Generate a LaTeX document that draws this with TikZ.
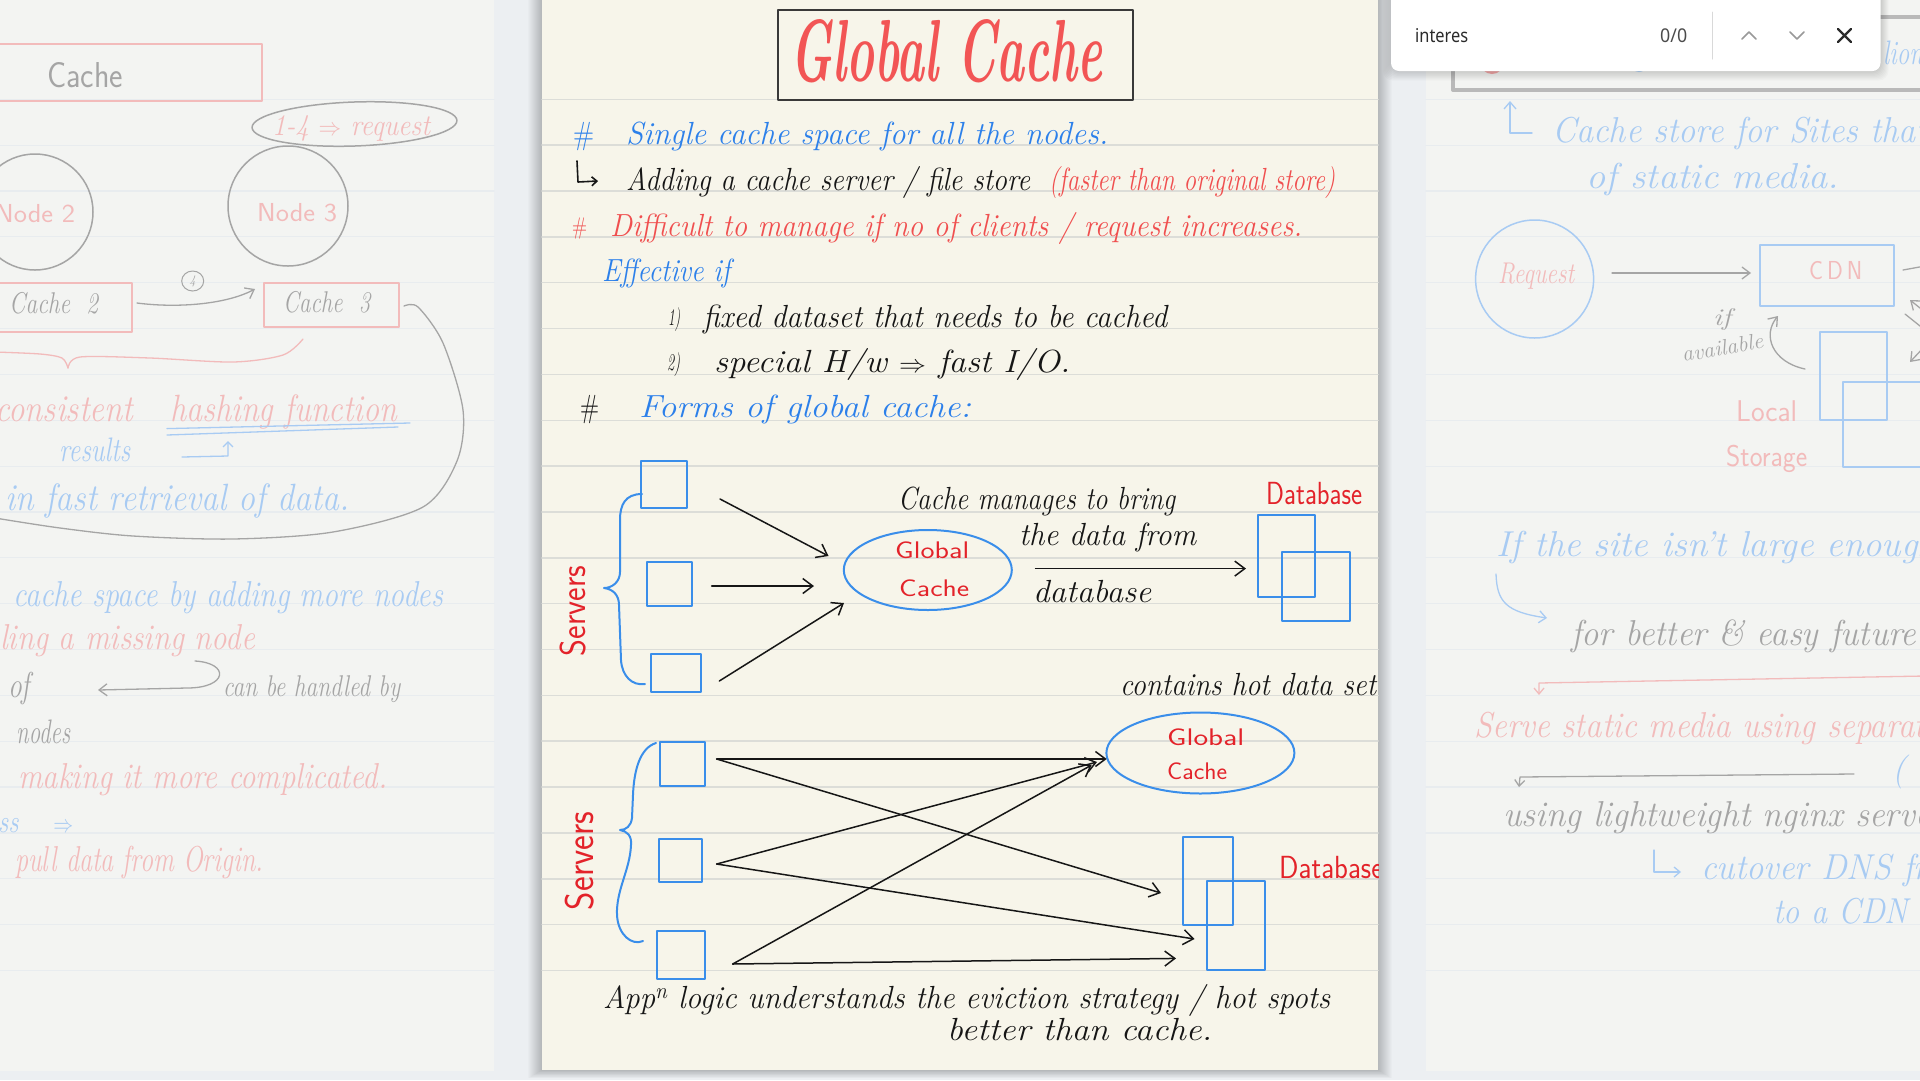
\documentclass[tikz,border=0pt]{standalone}
\usepackage{fontspec}
\usepackage{graphicx}
\usetikzlibrary{arrows.meta,shapes.geometric}
\newfontfamily\uifont{Noto Sans}
\definecolor{gutter}{HTML}{ECEFF2}
\definecolor{fpage}{HTML}{F3F4F2}
\definecolor{cpage}{HTML}{F7F5EA}
\definecolor{cline}{HTML}{DCDDD8}
\definecolor{fline}{HTML}{E8ECEF}
\definecolor{tred}{HTML}{F25555}
\definecolor{cred}{HTML}{F04F4F}
\definecolor{dred}{HTML}{E3232A}
\definecolor{cblue}{HTML}{2C80EA}
\definecolor{bblue}{HTML}{3A8EEA}
\definecolor{ink}{HTML}{161616}
\definecolor{fpink}{HTML}{F2BBBB}
\definecolor{fblue}{HTML}{A8CBF3}
\definecolor{fgray}{HTML}{A5A5A5}
\definecolor{fbox}{HTML}{B9B9B9}
\definecolor{uitext}{HTML}{2B2B2B}
\newcommand\fitw[2]{\resizebox{#1pt}{\height}{#2}}
\tikzset{
  hw/.style={anchor=base west, inner sep=0pt, font=\fontsize{#1}{#1}\selectfont\itshape},
  hw/.default=32,
  pr/.style={anchor=base west, inner sep=0pt, font=\fontsize{#1}{#1}\selectfont\sffamily},
  pr/.default=26,
  arr/.style={-{Straight Barb[length=10pt,width=15pt]}, line width=1.5pt, draw=ink},
  farr/.style={-{Straight Barb[length=8pt,width=12pt]}, line width=1.3pt},
  bx/.style={draw=bblue, line width=2pt, inner sep=0pt},
  fbx/.style={line width=1.5pt, inner sep=0pt},
}
\begin{document}
\begin{tikzpicture}[x=1pt,y=-1pt,line cap=round,line join=round]
\useasboundingbox (0,0) rectangle (1920,1080);
\fill[gutter] (0,0) rectangle (1920,1080);
% side pages
\fill[fpage] (-20,-20) rectangle (494,1071);
\fill[fpage] (1426,-20) rectangle (1940,1071);
% centre page shadow and page
\foreach \i in {1,...,14} \fill[black,opacity=0.016] (542-\i,-20) rectangle (1378+\i,1070+0.6*\i);
\fill[cpage] (542,-20) rectangle (1378,1070);
% ruled lines
\foreach \k in {0,...,19} {
  \draw[cline,line width=1.5pt] (542,99.3+45.85*\k) -- (1378,99.3+45.85*\k);
  \draw[fline,line width=1.2pt] (-5,99.3+45.85*\k) -- (494,99.3+45.85*\k);
  \draw[fline,line width=1.2pt] (1426,99.3+45.85*\k) -- (1925,99.3+45.85*\k);
}

% ================= CENTRE PAGE =================
\node[draw=ink!85, line width=2pt, minimum width=354.5, minimum height=90.5, inner sep=0pt] (titlebox) at (955.25,54.75) {};
\node[anchor=base west, inner sep=0pt, text=tred] (title) at (790,81) {\resizebox{312pt}{62pt}{\fontsize{70}{80}\selectfont\bfseries\itshape Global Cache}};

\node[hw, text=cblue] (h1) at (573,144) {\fitw{21}{\upshape\#}};
\node[hw, text=cblue] (l1) at (626,144) {\fitw{482}{Single cache space for all the nodes.}};
\coordinate (ar0a) at (577,161); \coordinate (ar0b) at (578,182); \coordinate (ar0c) at (598,181);
\draw[ink, line width=1.6pt, -{Straight Barb[length=5pt,width=9pt]}] (ar0a) -- (ar0b) -- (ar0c);
\node[hw, text=ink] (l2) at (626,190) {\fitw{404}{Adding a cache server / file store}};
\node[hw, text=cred] (l2r) at (1049,190) {\fitw{286}{(faster than original store)}};
\node[hw=24, text=cred] (h2) at (572,234) {\fitw{15}{\upshape\#}};
\node[hw, text=cred] (l3) at (610,236) {\fitw{692}{Difficult to manage if no of clients / request increases.}};
\node[hw, text=cblue] (l4) at (602,281) {\fitw{128}{Effective if}};
\node[hw=24, text=ink] (n1) at (668,325) {\fitw{12}{1)}};
\node[hw, text=ink] (l5) at (703,327) {\fitw{464}{fixed dataset that needs to be cached}};
\node[hw=24, text=ink] (n2) at (667,370) {\fitw{13}{2)}};
\node[hw, text=ink] (l6) at (714,372) {\fitw{356}{special H/w $\Rightarrow$ fast I/O.}};
\node[hw, text=ink] (h3) at (580,417) {\fitw{19}{\upshape\#}};
\node[hw, text=cblue] (l7) at (639,417) {\fitw{332}{Forms of global cache:}};

% ---- upper diagram
\node[bx, minimum width=46.6, minimum height=47] (s1) at (664,484.5) {};
\node[bx, minimum width=44.8, minimum height=44.5] (s2) at (669.4,584.2) {};
\node[bx, minimum width=49.5, minimum height=37.5] (s3) at (675.8,673.2) {};
\draw[bblue, line width=2pt] (642,494) .. controls (625,494) and (620,505) .. (620,520) -- (620,572) .. controls (620,582) and (612,588) .. (604,588) .. controls (612,589) and (619,594) .. (619,605) -- (621,660) .. controls (622,676) and (632,686) .. (645,684);
\node[rotate=90, inner sep=0pt, text=dred, font=\fontsize{36}{36}\selectfont\sffamily] (srv1) at (573.5,611) {\fitw{90}{Servers}};
\node[ellipse, draw=bblue, line width=2pt, minimum width=168, minimum height=80, inner sep=0pt] (gc1) at (927.8,570) {};
\node[pr=24, text=dred] (gc1a) at (895,558) {\fitw{74}{Global}};
\node[pr=24, text=dred] (gc1b) at (899,596) {\fitw{70}{Cache}};
\coordinate (a1s) at (720,499); \coordinate (a1e) at (828.5,556);
\coordinate (a2s) at (711.7,586); \coordinate (a2e) at (814,586);
\coordinate (a3s) at (719.3,681); \coordinate (a3e) at (844,603);
\draw[arr] (a1s) -- (a1e);
\draw[arr] (a2s) -- (a2e);
\draw[arr] (a3s) -- (a3e);
\node[hw, text=ink] (d1) at (898,509) {\fitw{277}{Cache manages to bring}};
\node[hw, text=ink] (d2) at (1019,545) {\fitw{177}{the data from}};
\node[hw, text=ink] (d3) at (1033,602) {\fitw{118}{database}};
\coordinate (a4s) at (1035.5,568.6); \coordinate (a4e) at (1246,568.6);
\draw[arr] (a4s) -- (a4e);
\node[pr=32, text=dred] (db1t) at (1266,504) {\fitw{96}{Database}};
\node[bx, minimum width=57, minimum height=82.3] (db1) at (1286.5,555.9) {};
\node[bx, minimum width=68, minimum height=69] (db2) at (1316,586.5) {};

% ---- lower diagram
\node[hw, text=ink] (d4) at (1120,695) {\fitw{256}{contains hot data set}};
\node[ellipse, draw=bblue, line width=2pt, minimum width=188, minimum height=81, inner sep=0pt] (gc2) at (1200.4,753) {};
\node[pr=24, text=dred] (gc2a) at (1167,745) {\fitw{77}{Global}};
\node[pr=24, text=dred] (gc2b) at (1167,779) {\fitw{60}{Cache}};
\node[bx, minimum width=45, minimum height=44] (t1) at (682.5,763.6) {};
\node[bx, minimum width=43, minimum height=42.7] (t2) at (680.6,860.3) {};
\node[bx, minimum width=47.5, minimum height=48.3] (t3) at (681.2,955.2) {};
\draw[bblue, line width=2pt] (656,743) .. controls (640,748) and (634,770) .. (633,795) -- (632,818) .. controls (631,826) and (626,830) .. (620,830) .. controls (627,831) and (632,836) .. (631,845) .. controls (630,870) and (616,890) .. (617,915) .. controls (618,935) and (632,946) .. (643,941);
\node[rotate=90, inner sep=0pt, text=dred, font=\fontsize{40}{40}\selectfont\sffamily] (srv2) at (580,861) {\fitw{98}{Servers}};
\node[bx, minimum width=50, minimum height=88] (db3) at (1208,880.5) {};
\node[bx, minimum width=58, minimum height=89] (db4) at (1236,925.5) {};
\begin{scope}
  \clip (542,0) rectangle (1378,1070);
  \node[pr=32, text=dred] (db2t) at (1279,878) {\fitw{104}{Database}};
\end{scope}
\coordinate (b1s) at (716.7,759); \coordinate (b2s) at (716.7,864); \coordinate (b3s) at (732.7,964);
\coordinate (b1a) at (1106.7,759); \coordinate (b1b) at (1161,893);
\coordinate (b2a) at (1097,762); \coordinate (b2b) at (1194.5,939);
\coordinate (b3a) at (1091.7,765); \coordinate (b3b) at (1176,958.4);
\draw[arr] (b1s) -- (b1a);
\draw[arr] (b1s) -- (b1b);
\draw[arr] (b2s) -- (b2a);
\draw[arr] (b2s) -- (b2b);
\draw[arr] (b3s) -- (b3a);
\draw[arr] (b3s) -- (b3b);
\node[hw, text=ink] (e1) at (603,1008) {\fitw{727}{App\textsuperscript{n} logic understands the eviction strategy / hot spots}};
\node[hw, text=ink] (e2) at (947,1040) {\fitw{265}{better than cache.}};

% ================= LEFT PAGE (faded) =================
\node[fbx, draw=fpink, minimum width=282, minimum height=57] (lcache) at (121,72.5) {};
\node[pr=36, text=fgray] (lcachet) at (47,87) {\fitw{76}{Cache}};
\node[ellipse, draw=fgray, fbx, rotate=2, minimum width=205, minimum height=44] (lreq) at (354.5,124) {};
\node[hw=30, text=fpink] (lreqt) at (272,135) {\fitw{158}{1-4 $\Rightarrow$ request}};
\node[circle, draw=fgray, fbx, minimum size=116] (node2) at (35,212) {};
\node[pr=26, text=fpink] (node2t) at (-5,222) {\fitw{80}{Node 2}};
\node[circle, draw=fgray, fbx, minimum size=120] (node3) at (288,206) {};
\node[pr=26, text=fpink] (node3t) at (257,221) {\fitw{80}{Node 3}};
\node[fbx, draw=fpink, minimum width=151.7, minimum height=49] (c2) at (56,307.5) {};
\node[hw=30, text=fgray] (c2t) at (9,313) {\fitw{89}{Cache \ 2}};
\node[fbx, draw=fpink, minimum width=135, minimum height=44] (c3) at (331.5,305) {};
\node[hw=30, text=fgray] (c3t) at (283,312) {\fitw{87}{Cache \ 3}};
\coordinate (c23s) at (137,303); \coordinate (c23e) at (255,289);
\draw[fgray, farr] (c23s) .. controls (175,308) and (225,305) .. (c23e);
\node[ellipse, draw=fgray, line width=1pt, minimum width=22, minimum height=20, inner sep=0pt, font=\fontsize{13}{13}\selectfont\itshape, text=fgray] (four) at (192.7,281) {4};
\draw[fgray, line width=1.3pt] plot[smooth] coordinates {(404,306) (418,307) (443,343) (463,410) (457,461) (423,507) (333,532) (233,539) (133,536) (60,528) (-5,518)};
\draw[fpink, line width=1.3pt] plot[smooth] coordinates {(-5,352) (40,354) (62,358) (68,368)};
\draw[fpink, line width=1.3pt] plot[smooth] coordinates {(68,368) (80,357) (150,358) (233,362) (283,355) (303,339)};
\node[hw=38, text=fpink] (lt1) at (-5,421) {\fitw{138}{consistent}};
\node[hw=38, text=fpink] (lt2) at (170,421) {\fitw{227}{hashing function}};
\draw[fblue, line width=1.3pt] (167,428.6) -- (410,423);
\draw[fblue, line width=1.3pt] (167,435) -- (398,427);
\node[hw=34, text=fblue] (lt3) at (59,461) {\fitw{71}{results}};
\coordinate (rs1) at (182,457); \coordinate (rs2) at (228,456); \coordinate (rs3) at (228,441);
\draw[fblue, line width=1.3pt, -{Straight Barb[length=5pt,width=10pt]}] (rs1) -- (rs2) -- (rs3);
\node[hw=38, text=fblue] (lt4) at (5,510) {\fitw{344}{in fast retrieval of data.}};
\node[hw=36, text=fblue] (lt5) at (13,606) {\fitw{430}{cache space by adding more nodes}};
\node[hw=36, text=fpink] (lt6) at (0,649) {\fitw{255}{ling a missing node}};
\node[hw=36, text=fgray] (lt7) at (8,697) {\fitw{22}{of}};
\coordinate (hb1) at (195,661); \coordinate (hb2) at (98,690);
\draw[fgray, farr] (hb1) .. controls (230,663) and (228,688) .. (187,688) -- (hb2);
\node[hw=30, text=fgray] (lt8) at (223,696) {\fitw{177}{can be handled by}};
\node[hw=34, text=fgray] (lt9) at (16,743) {\fitw{54}{nodes}};
\node[hw=36, text=fpink] (lt10) at (18,788) {\fitw{369}{making it more complicated.}};
\node[hw=32, text=fblue] (lt11) at (-2,832) {\fitw{75}{ss \quad $\Rightarrow$}};
\node[hw=36, text=fpink] (lt12) at (15,871) {\fitw{248}{pull data from Origin.}};

% ================= RIGHT PAGE (faded) =================
\node[draw=fbox, line width=4pt, minimum width=487, minimum height=73, inner sep=0pt] (rbox) at (1696.5,53.5) {};
\fill[fpink!90!red] (1492,62) circle[radius=12];
\fill[fblue] (1639,64) circle[radius=8];
\node[hw=34, text=fblue] (rlion) at (1883,64) {\fitw{40}{lion}};
\coordinate (ru1) at (1532,133); \coordinate (ru2) at (1510,133); \coordinate (ru3) at (1510,101);
\draw[fblue, line width=1.3pt, -{Straight Barb[length=7pt,width=12pt]}] (ru1) -- (ru2) -- (ru3);
\node[hw=36, text=fblue] (rt1) at (1552,142) {\fitw{375}{Cache store for Sites that}};
\node[hw=36, text=fblue] (rt2) at (1586,188) {\fitw{253}{of static media.}};
\node[circle, draw=fblue, fbx, minimum size=118] (req) at (1534.6,279) {};
\node[hw=30, text=fpink] (reqt) at (1498,283) {\fitw{76}{Request}};
\node[fbx, draw=fblue, minimum width=134, minimum height=61] (cdn) at (1827,275.5) {};
\node[pr=26, text=fpink] (cdnt) at (1809,279) {\fitw{53}{C\,D\,N}};
\coordinate (rq1) at (1612,273); \coordinate (rq2) at (1751,273);
\draw[fgray, farr] (rq1) -- (rq2);
\coordinate (st1) at (1925,266); \coordinate (st2) at (1903,270);
\draw[fgray, line width=1.3pt] (st1) -- (st2);
\coordinate (st3) at (1925,312); \coordinate (st4) at (1910,300);
\draw[fgray, farr] (st3) -- (st4);
\coordinate (st5) at (1905,314); \coordinate (st6) at (1925,330);
\draw[fgray, line width=1.3pt] (st5) -- (st6);
\coordinate (st7) at (1925,346); \coordinate (st8) at (1910,362);
\draw[fgray, farr] (st7) -- (st8);
\node[hw=24, text=fgray] (rif) at (1713,325) {\fitw{18}{if}};
\node[hw=22, text=fgray, rotate=10] (ravail) at (1683,362) {\fitw{82}{available}};
\coordinate (ca1) at (1805,369); \coordinate (ca2) at (1778,316);
\draw[fgray, farr] (ca1) .. controls (1772,362) and (1762,335) .. (ca2);
\node[fbx, draw=fblue, minimum width=67, minimum height=88] (ls1) at (1853.5,376) {};
\node[fbx, draw=fblue, minimum width=87, minimum height=85] (ls2) at (1886.5,424.5) {};
\node[pr=30, text=fpink] (lst1) at (1736,421) {\fitw{61}{Local}};
\node[pr=30, text=fpink] (lst2) at (1726,466) {\fitw{81}{Storage}};
\node[hw=36, text=fblue] (rt3) at (1496,556) {\fitw{440}{If the site isn't large enough}};
\coordinate (bc1) at (1496,574); \coordinate (bc2) at (1547,618);
\draw[fblue, line width=1.3pt, -{Straight Barb[length=7pt,width=12pt]}] (bc1) .. controls (1497,602) and (1506,612) .. (bc2);
\node[hw=36, text=fgray] (rt4) at (1571,645) {\fitw{345}{for better \& easy future}};
\coordinate (pl1) at (1925,676); \coordinate (pl2) at (1539,683); \coordinate (pl3) at (1539,695);
\draw[fpink, line width=1.3pt, -{Straight Barb[length=6pt,width=10pt]}] (pl1) -- (pl2) -- (pl3);
\node[hw=36, text=fpink] (rt5) at (1474,737) {\fitw{466}{Serve static media using separate}};
\coordinate (gl1) at (1854,774); \coordinate (gl2) at (1520,777); \coordinate (gl3) at (1519,787);
\draw[fgray, line width=1.3pt, -{Straight Barb[length=6pt,width=10pt]}] (gl1) -- (gl2) -- (gl3);
\node[hw=34, text=fblue] (rpar) at (1892,780) {(\quad s};
\node[hw=36, text=fgray] (rt6) at (1503,826) {\fitw{442}{using lightweight nginx server}};
\coordinate (cu1) at (1654,850); \coordinate (cu2) at (1654,872); \coordinate (cu3) at (1681,872);
\draw[fblue, line width=1.3pt, -{Straight Barb[length=6pt,width=10pt]}] (cu1) -- (cu2) -- (cu3);
\node[hw=36, text=fblue] (rt7) at (1701,879) {\fitw{270}{cutover DNS from}};
\node[hw=36, text=fblue] (rt8) at (1773,923) {\fitw{135}{to a CDN}};

% ================= SEARCH POPUP =================
\foreach \i in {1,...,8} \fill[black,opacity=0.018,rounded corners=10pt] (1391-\i,-20) rectangle (1880.5+\i,71+1.2*\i);
\node[fill=white, rounded corners=8pt, minimum width=489.5, minimum height=91, inner sep=0pt] (popup) at (1635.75,25.5) {};
\node[anchor=base west, inner sep=0pt, text=uitext, font=\fontsize{19}{19}\selectfont\uifont] (ptext) at (1415,42.5) {\fitw{53}{interes}};
\node[anchor=base west, inner sep=0pt, text=uitext!85, font=\fontsize{19}{19}\selectfont\uifont] (pcount) at (1660,42.5) {\fitw{27}{0/0}};
\draw[black!15, line width=1pt] (1712.6,12) -- (1712.6,59);
\draw[black!40, line width=1.6pt] (1742,39) -- (1749,32) -- (1756,39);
\draw[black!40, line width=1.6pt] (1790,32) -- (1797,39) -- (1804,32);
\draw[uitext, line width=2.4pt] (1838,29) -- (1851,42) (1851,29) -- (1838,42);
\end{tikzpicture}
\end{document}
